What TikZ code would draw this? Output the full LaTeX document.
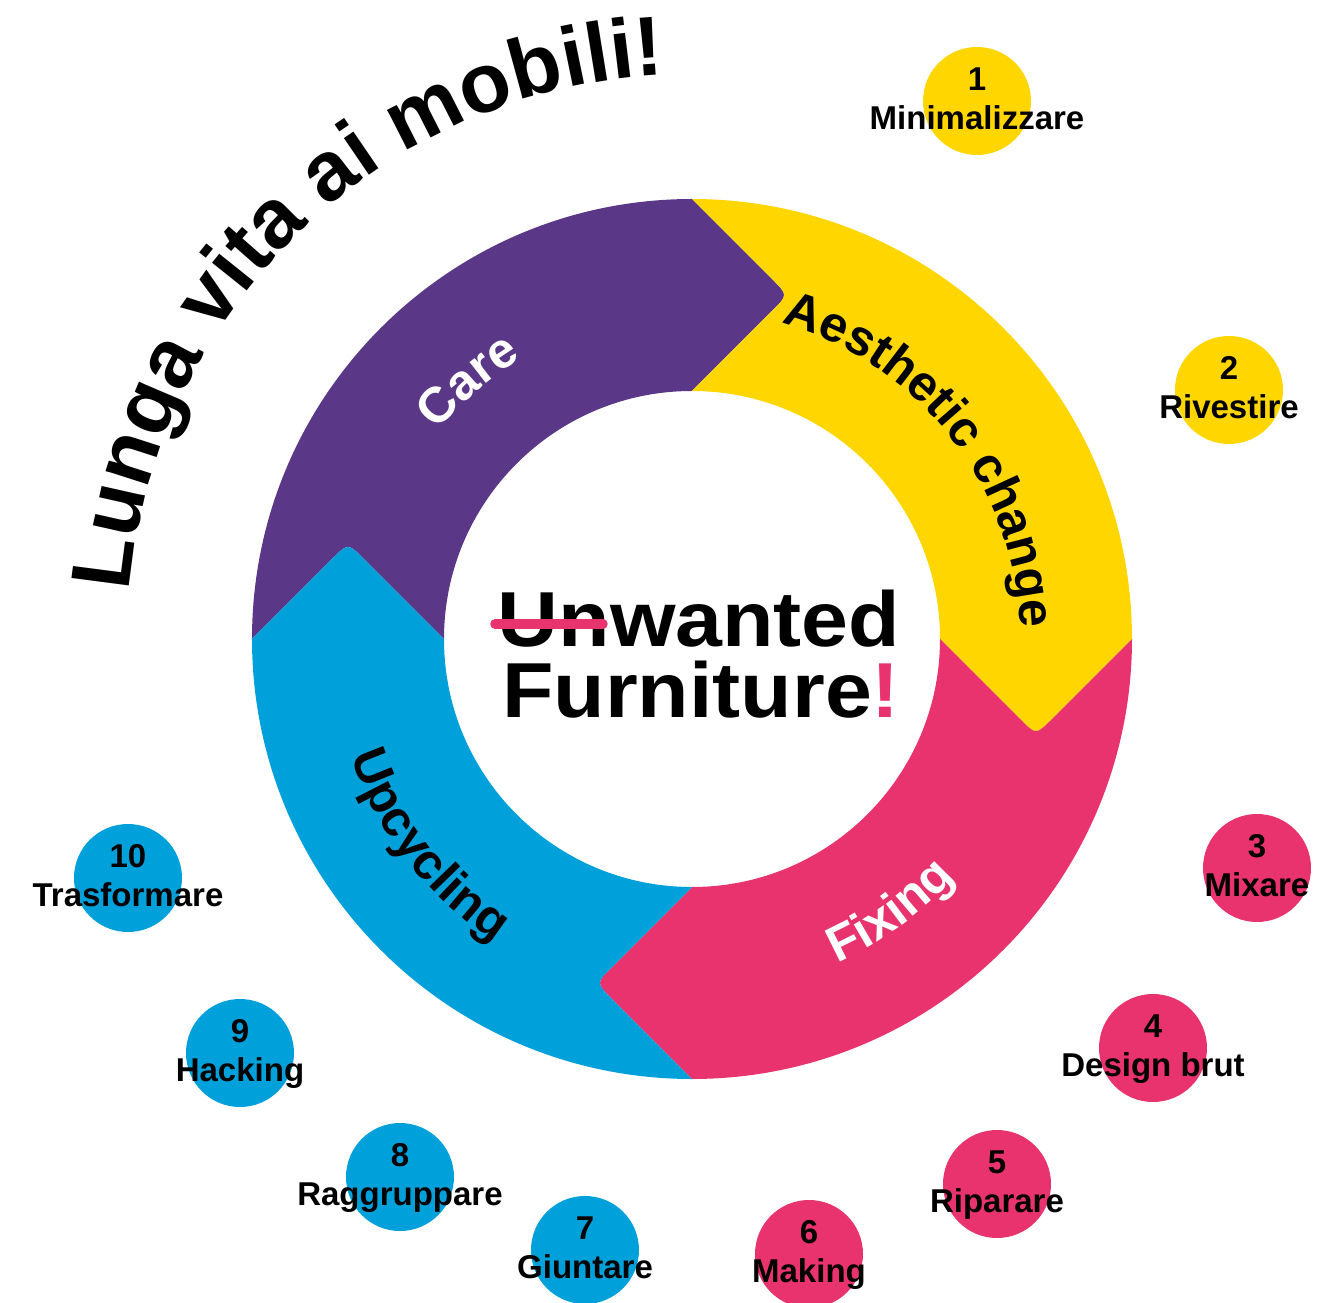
\documentclass[tikz,border=0pt]{standalone}
\usepackage{fontspec}
\setmainfont{Liberation Sans}
\usetikzlibrary{calc,decorations.text}
\definecolor{cpurple}{RGB}{90,56,135}
\definecolor{cyellow}{RGB}{255,214,0}
\definecolor{cpink}{RGB}{232,51,110}
\definecolor{cblue}{RGB}{0,160,218}
\newcommand\titlefont{\fontsize{84}{84}\selectfont\bfseries}
\newcommand\ringfont{\fontsize{50}{50}\selectfont\bfseries}
\newcommand\smallfont{\fontsize{33}{33}\selectfont\bfseries}
\begin{document}
\begin{tikzpicture}[x=1pt,y=1pt,
  circ/.style={circle,minimum size=108,inner sep=0pt,draw=none},
  numtxt/.style={font=\smallfont,anchor=base,inner sep=0pt},
  centertext/.style={font=\fontsize{78}{78}\selectfont\bfseries,anchor=base,inner sep=0pt,xscale=1.08},
  strike/.style={draw=cpink,line width=9.5,line cap=round},
  ringlabel/.style={decorate,decoration={text along path,text align=center,text={|\ringfont|#1}}},
  ringlabelw/.style={decorate,decoration={text along path,text align=center,text color=white,text={|\ringfont|#1}}}
]
\useasboundingbox (-692,-664) rectangle (646,639);
\clip (-692,-664) rectangle (646,639);
% ring segments
\foreach \A/\col in {180/cpurple, 90/cyellow, 0/cpink, -90/cblue}{
  \pgfmathsetmacro\B{\A-90}
  \coordinate (T) at ($(\B:344)+(\B-90:96)$);
  \coordinate (N) at ($(\A:344)+(\A-90:96)$);
  \fill[\col] (\A:440) arc[start angle=\A, end angle=\B, radius=440]
    -- ($(T)+(\B+45:22)$) .. controls (T) .. ($(T)+(\B+135:22)$)
    -- (\B:248) arc[start angle=\B, end angle=\A, radius=248]
    -- ($(N)+(\A+135:22)$) .. controls (N) .. ($(N)+(\A+45:22)$)
    -- cycle;
}
% ring labels
\path[ringlabelw={Care}] (201:328) arc[start angle=201, end angle=61, radius=328];
\path[ringlabel={Aesthetic change}] (108:328) arc[start angle=108, end angle=-32, radius=328];
\path[ringlabelw={Fixing}] (-124:355) arc[start angle=-124, end angle=16, radius=355];
\path[ringlabel={Upcycling}] (-212:361) arc[start angle=-212, end angle=-72, radius=361];
% title
\path[decorate,decoration={text along path,text align=center,text={|\titlefont|Lunga vita ai mobili!}}]
  (184:565) arc[start angle=184, end angle=84, radius=565];
% center text
\node[centertext] (unw) at (7,-8) {Unwanted};
\node[centertext] (fur) at (9,-78) {Furniture\textcolor{cpink}{!}};
\coordinate (sa) at (-197,15);
\coordinate (sb) at (-89,15);
\draw[strike] (sa) -- (sb);
% small circles
\foreach \n/\x/\y/\col/\lab in {
  1/285/538/cyellow/Minimalizzare,
  2/537/249/cyellow/Rivestire,
  3/565/-229/cpink/Mixare,
  4/461/-409/cpink/Design brut,
  5/305/-545/cpink/Riparare,
  6/117/-615/cpink/Making,
  7/-107/-611/cblue/Giuntare,
  8/-292/-538/cblue/Raggruppare,
  9/-452/-414/cblue/Hacking,
  10/-564/-239/cblue/Trasformare}{
  \node[circ,fill=\col] (c\n) at (\x,\y) {};
  \node[numtxt] (n\n) at ($(c\n.center)+(0,10.5)$) {\n};
  \node[numtxt] (l\n) at ($(c\n.center)+(0,-28.5)$) {\lab};
}
\end{tikzpicture}
\end{document}
